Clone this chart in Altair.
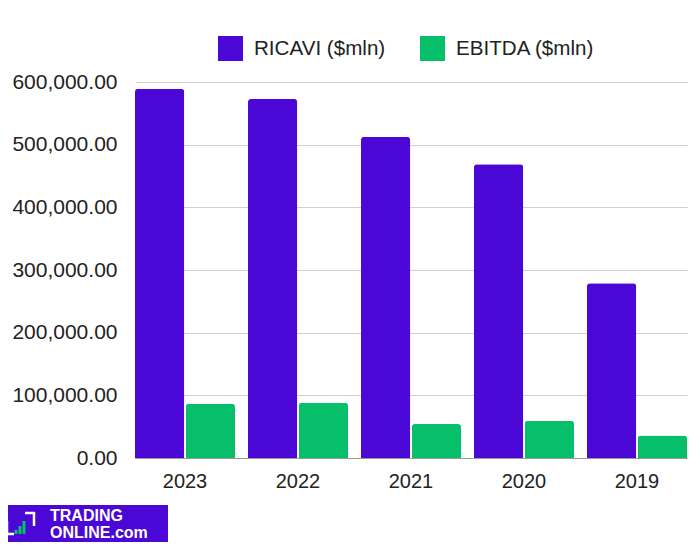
import altair as alt
import pandas as pd

years = ["2023", "2022", "2021", "2020", "2019"]
series = ["RICAVI ($mln)", "EBITDA ($mln)"]
ricavi = [589300, 572900, 512300, 468700, 279000]
ebitda = [86600, 88200, 54200, 59500, 36000]
y_ticks = [0, 100000, 200000, 300000, 400000, 500000, 600000]
colors = ["#4A07D6", "#07BF6A"]

rows = []
for i, y in enumerate(years):
    rows.append({"anno": y, "serie": series[0], "valore": ricavi[i]})
    rows.append({"anno": y, "serie": series[1], "valore": ebitda[i]})
df = pd.DataFrame(rows)

FONT = "Liberation Sans"

bars = alt.Chart(df).mark_bar(
    cornerRadiusTopLeft=3, cornerRadiusTopRight=3
).encode(
    x=alt.X("anno:N", sort=years, title=None,
            scale=alt.Scale(paddingInner=0.115, paddingOuter=0),
            axis=alt.Axis(labelAngle=0, ticks=False, domain=True, domainColor="#999999",
                          labelFontSize=20, labelColor="#222222", labelFont=FONT,
                          labelPadding=13, grid=False)),
    xOffset=alt.XOffset("serie:N", sort=series, scale=alt.Scale(paddingInner=0.03)),
    y=alt.Y("valore:Q", title=None,
            scale=alt.Scale(domain=[0, 600000], nice=False),
            axis=alt.Axis(values=y_ticks, format=",.2f", ticks=False, domain=False,
                          labelFontSize=21, labelColor="#222222", labelFont=FONT,
                          labelPadding=18, gridColor="#D0D0D0")),
    color=alt.Color("serie:N", sort=series,
                    scale=alt.Scale(domain=series, range=colors),
                    legend=alt.Legend(title=None, orient="none", legendX=83, legendY=-46,
                                      direction="horizontal", symbolType="square",
                                      symbolSize=625, symbolStrokeWidth=0,
                                      labelFontSize=20.6, labelFont=FONT, labelColor="#222222",
                                      labelOffset=11, columnPadding=34)),
)

logo_data = alt.Data(values=[{"a": 1}])
logo_bg = alt.Chart(logo_data).mark_rect(color="#4A07D6").encode(
    x=alt.value(-135), x2=alt.value(33), y=alt.value(423), y2=alt.value(460)
)
logo_t1 = alt.Chart(logo_data).mark_text(
    text="TRADING", color="white", fontSize=16, fontWeight="bold", font=FONT,
    align="left", baseline="middle"
).encode(x=alt.value(-85), y=alt.value(434))
logo_t2 = alt.Chart(logo_data).mark_text(
    text="ONLINE.com", color="white", fontSize=16, fontWeight="bold", font=FONT,
    align="left", baseline="middle"
).encode(x=alt.value(-85), y=alt.value(451))

def rule(color, sw, **enc):
    return alt.Chart(logo_data).mark_rule(color=color, strokeWidth=sw).encode(**enc)

logo_icon = [
    rule("white", 2.5, x=alt.value(-128), y=alt.value(439), y2=alt.value(453)),
    rule("white", 2.5, x=alt.value(-129), x2=alt.value(-121), y=alt.value(452)),
    rule("white", 2.5, x=alt.value(-110), x2=alt.value(-100), y=alt.value(431)),
    rule("white", 2.5, x=alt.value(-101), y=alt.value(430), y2=alt.value(444)),
    rule("#07BF6A", 3, x=alt.value(-119), y=alt.value(448), y2=alt.value(452)),
    rule("#07BF6A", 3, x=alt.value(-115), y=alt.value(444), y2=alt.value(452)),
    rule("#07BF6A", 3, x=alt.value(-111), y=alt.value(439), y2=alt.value(452)),
]

chart = alt.layer(
    bars, logo_bg, logo_t1, logo_t2, *logo_icon
).properties(
    width=552, height=376,
    autosize=alt.AutoSizeParams(type="none"),
    padding={"left": 127, "top": 74, "right": 5, "bottom": 84},
    background="white",
).configure_view(stroke=None)

chart.save("out.html", embed_options={"renderer": "svg", "actions": False})
